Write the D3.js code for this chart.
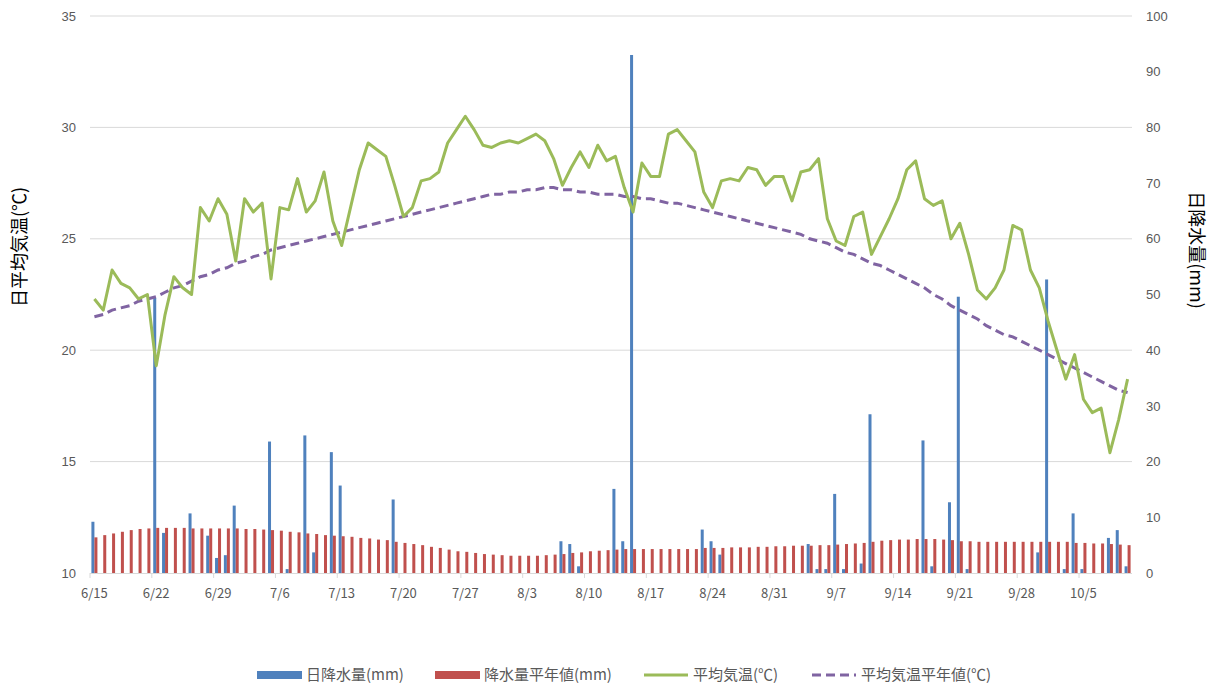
<!DOCTYPE html>
<html lang="ja">
<head>
<meta charset="utf-8">
<script src="https://cdn.jsdelivr.net/npm/d3@7"></script>
<style>
  html, body { margin: 0; padding: 0; background: #fff; }
  svg { display: block; font-family: "Noto Sans CJK JP", "Noto Sans", sans-serif; }
</style>
</head>
<body>
<svg id="chart" width="1211" height="686"></svg>
<script>
// Daily observations from 6/15 to 10/10
const startDate = new Date(2020, 5, 15);
const dayCount = 118;

// 日降水量 (mm), 0 = no rain
const rain = [
  9.2, 0, 0, 0, 0, 0, 0, 49.4, 7.2, 0,
  0, 10.7, 0, 6.7, 2.7, 3.2, 12.1, 0, 0, 0,
  23.6, 0, 0.7, 0, 24.7, 3.7, 0, 21.7, 15.7, 0,
  0, 0, 0, 0, 13.2, 0, 0, 0, 0, 0,
  0, 0, 0, 0, 0, 0, 0, 0, 0, 0,
  0, 0, 0, 5.7, 5.2, 1.2, 0, 0, 0, 15.1,
  5.7, 93.0, 0, 0, 0, 0, 0, 0, 0, 7.8,
  5.7, 3.3, 0, 0, 0, 0, 0, 0, 0, 0,
  0, 5.2, 0.7, 0.7, 14.2, 0.7, 0, 1.7, 28.5, 0,
  0, 0, 0, 0, 23.8, 1.2, 0, 12.7, 49.6, 0.7,
  0, 0, 0, 0, 0, 0, 0, 3.7, 52.7, 0,
  0.7, 10.7, 0.7, 0, 0, 6.3, 7.7, 1.2
];

// 降水量平年値 (mm)
const rainNormal = [
  6.4, 6.8, 7.1, 7.4, 7.7, 7.9, 8.0, 8.1, 8.1, 8.1,
  8.1, 8.0, 8.0, 8.0, 8.0, 8.0, 8.0, 7.9, 7.9, 7.8,
  7.7, 7.6, 7.4, 7.3, 7.1, 7.0, 6.8, 6.7, 6.6, 6.5,
  6.3, 6.2, 6.0, 5.9, 5.6, 5.4, 5.2, 5.0, 4.7, 4.5,
  4.2, 3.9, 3.8, 3.6, 3.4, 3.3, 3.2, 3.1, 3.1, 3.1,
  3.1, 3.2, 3.3, 3.4, 3.6, 3.7, 3.9, 4.0, 4.1, 4.2,
  4.3, 4.3, 4.3, 4.3, 4.3, 4.3, 4.3, 4.3, 4.3, 4.5,
  4.5, 4.5, 4.6, 4.6, 4.6, 4.7, 4.7, 4.8, 4.8, 4.9,
  4.9, 4.9, 5.0, 5.0, 5.1, 5.2, 5.3, 5.4, 5.6, 5.8,
  5.9, 6.0, 6.0, 6.1, 6.1, 6.1, 6.0, 5.9, 5.7, 5.7,
  5.6, 5.6, 5.6, 5.6, 5.6, 5.6, 5.6, 5.6, 5.6, 5.6,
  5.6, 5.4, 5.4, 5.3, 5.3, 5.2, 5.1, 5.0
];

// 平均気温 (℃)
const temp = [
  22.3, 21.8, 23.6, 23.0, 22.8, 22.3, 22.5, 19.3, 21.6, 23.3,
  22.8, 22.5, 26.4, 25.8, 26.8, 26.1, 24.0, 26.8, 26.2, 26.6,
  23.2, 26.4, 26.3, 27.7, 26.2, 26.7, 28.0, 25.8, 24.7, 26.4,
  28.1, 29.3, 29.0, 28.7, 27.4, 26.0, 26.4, 27.6, 27.7, 28.0,
  29.3, 29.9, 30.5, 29.9, 29.2, 29.1, 29.3, 29.4, 29.3, 29.5,
  29.7, 29.4, 28.6, 27.4, 28.2, 28.9, 28.2, 29.2, 28.5, 28.7,
  27.3, 26.2, 28.4, 27.8, 27.8, 29.7, 29.9, 29.4, 28.9, 27.1,
  26.4, 27.6, 27.7, 27.6, 28.2, 28.1, 27.4, 27.8, 27.8, 26.7,
  28.0, 28.1, 28.6, 25.9, 24.9, 24.7, 26.0, 26.2, 24.3, 25.1,
  25.9, 26.8, 28.1, 28.5, 26.8, 26.5, 26.7, 25.0, 25.7, 24.3,
  22.7, 22.3, 22.8, 23.6, 25.6, 25.4, 23.6, 22.8, 21.3, 20.0,
  18.7, 19.8, 17.8, 17.2, 17.4, 15.4, 16.9, 18.7
];

// 平均気温平年値 (℃)
const tempNormal = [
  21.5, 21.6, 21.8, 21.9, 22.0, 22.2, 22.3, 22.4, 22.6, 22.8,
  22.9, 23.1, 23.3, 23.4, 23.6, 23.7, 23.9, 24.0, 24.2, 24.3,
  24.5, 24.6, 24.7, 24.8, 24.9, 25.0, 25.1, 25.2, 25.3, 25.4,
  25.5, 25.6, 25.7, 25.8, 25.9, 26.0, 26.1, 26.2, 26.3, 26.4,
  26.5, 26.6, 26.7, 26.8, 26.9, 27.0, 27.0, 27.1, 27.1, 27.2,
  27.2, 27.3, 27.3, 27.2, 27.2, 27.1, 27.1, 27.0, 27.0, 27.0,
  26.9, 26.9, 26.8, 26.8, 26.7, 26.6, 26.6, 26.5, 26.4, 26.3,
  26.2, 26.1, 26.0, 25.9, 25.8, 25.7, 25.6, 25.5, 25.4, 25.3,
  25.2, 25.0, 24.9, 24.8, 24.6, 24.4, 24.3, 24.1, 23.9, 23.8,
  23.6, 23.4, 23.2, 23.0, 22.8, 22.5, 22.3, 22.0, 21.8, 21.6,
  21.4, 21.1, 20.9, 20.7, 20.6, 20.4, 20.2, 20.0, 19.8, 19.6,
  19.4, 19.2, 19.0, 18.8, 18.6, 18.4, 18.2, 18.1
];

const tempTicks = [10, 15, 20, 25, 30, 35];
const rainTicks = [0, 10, 20, 30, 40, 50, 60, 70, 80, 90, 100];
const dateTickLabels = ["6/15", "6/22", "6/29", "7/6", "7/13", "7/20", "7/27", "8/3", "8/10",
  "8/17", "8/24", "8/31", "9/7", "9/14", "9/21", "9/28", "10/5"];

const seriesNames = ["日降水量(mm)", "降水量平年値(mm)", "平均気温(℃)", "平均気温平年値(℃)"];
const colors = { rain: "#4f81bd", rainNormal: "#c0504d", temp: "#9bbb59", tempNormal: "#8064a2" };

const days = d3.range(dayCount).map(i => d3.timeDay.offset(startDate, i));
const fmt = d3.timeFormat("%-m/%-d");
const rows = days.map((d, i) => ({
  date: d, label: fmt(d), rain: rain[i], rainNormal: rainNormal[i],
  temp: temp[i], tempNormal: tempNormal[i]
}));

const plot = { left: 90, right: 1132, top: 16, bottom: 573 };
const svg = d3.select("#chart");

const x = d3.scaleBand()
  .domain(rows.map(r => r.label))
  .range([plot.left, plot.right])
  .paddingInner(0.32)
  .paddingOuter(0.16);
const xSub = d3.scaleBand().domain(["rain", "rainNormal"]).range([0, x.bandwidth()]);
const yT = d3.scaleLinear().domain([10, 35]).range([plot.bottom, plot.top]);
const yR = d3.scaleLinear().domain([0, 100]).range([plot.bottom, plot.top]);

const labelColor = "#595959";
const gridColor = "#d9d9d9";

// horizontal gridlines
svg.append("g")
  .selectAll("line")
  .data(tempTicks.slice(1))
  .join("line")
  .attr("x1", plot.left).attr("x2", plot.right)
  .attr("y1", d => yT(d)).attr("y2", d => yT(d))
  .attr("stroke", gridColor).attr("stroke-width", 1);

// left axis (temperature)
const leftAxis = svg.append("g")
  .attr("transform", `translate(${plot.left},0)`)
  .call(d3.axisLeft(yT).tickValues(tempTicks).tickSize(0).tickPadding(14));
leftAxis.select(".domain").remove();
leftAxis.selectAll("text").attr("fill", labelColor).attr("font-size", 13);

// right axis (precipitation)
const rightAxis = svg.append("g")
  .attr("transform", `translate(${plot.right},0)`)
  .call(d3.axisRight(yR).tickValues(rainTicks).tickSize(0).tickPadding(14));
rightAxis.select(".domain").remove();
rightAxis.selectAll("text").attr("fill", labelColor).attr("font-size", 13);

// bars
const step = x.step();
const barGroups = svg.append("g")
  .selectAll("g")
  .data(rows)
  .join("g")
  .attr("transform", d => `translate(${x(d.label)},0)`);
barGroups.append("rect")
  .attr("x", xSub("rain"))
  .attr("width", xSub.bandwidth())
  .attr("y", d => yR(d.rain))
  .attr("height", d => yR(0) - yR(d.rain))
  .attr("fill", colors.rain);
barGroups.append("rect")
  .attr("x", xSub("rainNormal"))
  .attr("width", xSub.bandwidth())
  .attr("y", d => yR(d.rainNormal))
  .attr("height", d => yR(0) - yR(d.rainNormal))
  .attr("fill", colors.rainNormal);

// bottom axis: category boundaries as tick marks, labels centred on the day
const bottom = svg.append("g");
bottom.append("line")
  .attr("x1", plot.left).attr("x2", plot.right)
  .attr("y1", plot.bottom + 0.5).attr("y2", plot.bottom + 0.5)
  .attr("stroke", gridColor).attr("stroke-width", 1);
const tickRows = rows.filter(r => dateTickLabels.includes(r.label));
bottom.selectAll("line.tick")
  .data(tickRows)
  .join("line")
  .attr("class", "tick")
  .attr("x1", d => x(d.label) - step * x.paddingInner() / 2)
  .attr("x2", d => x(d.label) - step * x.paddingInner() / 2)
  .attr("y1", plot.bottom).attr("y2", plot.bottom + 5)
  .attr("stroke", gridColor);
bottom.selectAll("text")
  .data(tickRows)
  .join("text")
  .attr("x", d => x(d.label) + x.bandwidth() / 2)
  .attr("y", plot.bottom + 25)
  .attr("text-anchor", "middle")
  .attr("fill", labelColor)
  .attr("font-size", 13)
  .text(d => d.label);

// temperature lines
const cx = d => x(d.label) + x.bandwidth() / 2;
svg.append("path")
  .datum(rows)
  .attr("fill", "none")
  .attr("stroke", colors.tempNormal)
  .attr("stroke-width", 3)
  .attr("stroke-dasharray", "9,5")
  .attr("d", d3.line().x(cx).y(d => yT(d.tempNormal)));
svg.append("path")
  .datum(rows)
  .attr("fill", "none")
  .attr("stroke", colors.temp)
  .attr("stroke-width", 3)
  .attr("stroke-linejoin", "round")
  .attr("d", d3.line().x(cx).y(d => yT(d.temp)));

// axis titles
svg.append("text")
  .attr("transform", "translate(20,247) rotate(-90)")
  .attr("text-anchor", "middle")
  .attr("dy", "0.35em")
  .attr("font-size", 18)
  .attr("fill", "#000")
  .text("日平均気温(℃)");
svg.append("text")
  .attr("transform", "translate(1196,250) rotate(90)")
  .attr("text-anchor", "middle")
  .attr("dy", "0.35em")
  .attr("font-size", 18)
  .attr("fill", "#000")
  .text("日降水量(mm)");

// legend
const legendY = 675;
const legendItems = [
  { name: seriesNames[0], type: "bar", color: colors.rain, x: 257 },
  { name: seriesNames[1], type: "bar", color: colors.rainNormal, x: 435 },
  { name: seriesNames[2], type: "line", color: colors.temp, x: 644 },
  { name: seriesNames[3], type: "dash", color: colors.tempNormal, x: 812 }
];
const legend = svg.append("g").selectAll("g").data(legendItems).join("g")
  .attr("transform", d => `translate(${d.x},${legendY})`);
legend.filter(d => d.type === "bar").append("rect")
  .attr("x", 0).attr("y", -4).attr("width", 45).attr("height", 8)
  .attr("fill", d => d.color);
legend.filter(d => d.type !== "bar").append("line")
  .attr("x1", 0).attr("x2", 44).attr("y1", 0).attr("y2", 0)
  .attr("stroke", d => d.color).attr("stroke-width", 3)
  .attr("stroke-dasharray", d => d.type === "dash" ? "9,5" : null);
legend.append("text")
  .attr("x", 49).attr("y", 0).attr("dy", "0.35em")
  .attr("font-size", 15)
  .attr("fill", labelColor)
  .text(d => d.name);
</script>
</body>
</html>
